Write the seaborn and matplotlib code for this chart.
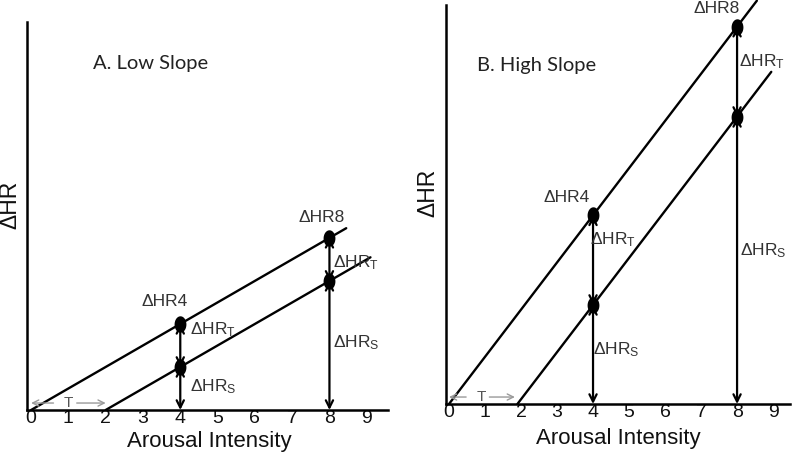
import numpy as np
import pandas as pd
import matplotlib
matplotlib.use("Agg")
import matplotlib.pyplot as plt
from matplotlib.path import Path
import seaborn as sns

# ---------------- data ----------------
tick_values = [0, 1, 2, 3, 4, 5, 6, 7, 8, 9]
tick_labels = ["0", "1", "2", "3", "4", "5", "6", "7", "8", "9"]
panel_titles = ["A. Low Slope", "B. High Slope"]
x_label = "Arousal Intensity"
y_label = "\u0394HR"

# Panel A (low slope)
a_upper_x = [0.0, 8.45]
a_upper_y = [0.0, 8.87]
a_lower_x = [2.0, 9.1]
a_lower_y = [0.0, 7.45]
a_dot_x = [4, 8, 4, 8]
a_dot_y = [4.2, 8.4, 2.1, 6.3]
a_threshold = [0.0, 2.0]

# Panel B (high slope)
b_upper_x = [0.0, 8.55]
b_upper_y = [0.0, 19.67]
b_lower_x = [1.9, 8.95]
b_lower_y = [0.0, 16.2]
b_dot_x = [4, 8, 4, 8]
b_dot_y = [9.2, 18.4, 4.83, 14.0]
b_threshold = [0.0, 1.83]

point_labels = ["\u0394HR4", "\u0394HR8"]
lab_T = "\u0394HR$_\\mathregular{T}$"
lab_S = "\u0394HR$_\\mathregular{S}$"

# ---------------- style ----------------
sns.set_style("white")
plt.rcParams["font.family"] = ["Liberation Sans", "DejaVu Sans"]
plt.rcParams["mathtext.default"] = "regular"
plt.rcParams["axes.unicode_minus"] = False

W, H = 796, 455
fig = plt.figure(figsize=(W / 100, H / 100), dpi=100)

def frac(px_left, px_top, px_right, px_bottom):
    return [px_left / W, 1 - px_bottom / H, (px_right - px_left) / W, (px_bottom - px_top) / H]

axA = fig.add_axes(frac(27, 22, 388, 410))
axB = fig.add_axes(frac(446, 5, 790, 404))

ellipse_t = np.linspace(0, 2 * np.pi, 40)
ellipse_marker = Path(np.column_stack([0.72 * np.cos(ellipse_t), np.sin(ellipse_t)]))

text_col = "#333333"
lab_fs = 12.5


def draw_panel(ax, xlim, ylim, up_x, up_y, lo_x, lo_y, dot_x, dot_y, thr,
               title, title_xy, lab_pos, t_y, t_x, xlab_xy, ylab_xy):
    sns.lineplot(x=up_x, y=up_y, ax=ax, color="black", lw=1.7, clip_on=False)
    sns.lineplot(x=lo_x, y=lo_y, ax=ax, color="black", lw=1.7, clip_on=False)
    sns.scatterplot(x=dot_x, y=dot_y, ax=ax, color="black", marker=ellipse_marker,
                    s=140, linewidth=0, zorder=5, clip_on=False)

    # double-headed arrows
    ap = dict(arrowstyle="<->", lw=1.6, color="black", mutation_scale=13,
              shrinkA=0, shrinkB=0)
    x4u, x8u, x4l, x8l = dot_x
    y4u, y8u, y4l, y8l = dot_y
    ax.annotate("", xy=(x4u, y4u), xytext=(x4l, y4l), arrowprops=ap, annotation_clip=False)
    ax.annotate("", xy=(x4l, y4l), xytext=(x4l, 0), arrowprops=ap, annotation_clip=False)
    ax.annotate("", xy=(x8u, y8u), xytext=(x8l, y8l), arrowprops=ap, annotation_clip=False)
    ax.annotate("", xy=(x8l, y8l), xytext=(x8l, 0), arrowprops=ap, annotation_clip=False)

    # labels
    (p4, p8, t4, s4, t8, s8) = lab_pos
    ax.text(*p4, point_labels[0], ha="center", va="center", fontsize=lab_fs, color=text_col)
    ax.text(*p8, point_labels[1], ha="center", va="center", fontsize=lab_fs, color=text_col)
    ax.text(*t4, lab_T, ha="left", va="center", fontsize=lab_fs, color=text_col)
    ax.text(*s4, lab_S, ha="left", va="center", fontsize=lab_fs, color=text_col)
    ax.text(*t8, lab_T, ha="left", va="center", fontsize=lab_fs, color=text_col)
    ax.text(*s8, lab_S, ha="left", va="center", fontsize=lab_fs, color=text_col)

    # threshold arrow T
    tp = dict(arrowstyle="->", lw=1.0, color="#9a9a9a", mutation_scale=11,
              shrinkA=5, shrinkB=0)
    ax.annotate("T", xy=(thr[0], t_y), xytext=(t_x, t_y), ha="center", va="center",
                fontsize=11, color="#555555", arrowprops=tp, annotation_clip=False)
    ax.annotate("", xy=(thr[1], t_y), xytext=(t_x, t_y),
                arrowprops=dict(tp, shrinkA=6), annotation_clip=False)

    ax.text(*title_xy, title, ha="center", va="center", fontsize=14.5,
            family=["Lato", "DejaVu Sans"], color="#222222")

    ax.set_xlim(*xlim)
    ax.set_ylim(*ylim)
    ax.set_xticks(tick_values)
    ax.set_xticklabels(tick_labels)
    ax.set_yticks([])
    ax.tick_params(axis="x", length=0, pad=0, labelsize=14, labelcolor="#111111")
    for sp in ["top", "right"]:
        ax.spines[sp].set_visible(False)
    for sp in ["left", "bottom"]:
        ax.spines[sp].set_linewidth(1.8)
        ax.spines[sp].set_color("black")
    ax.set_xlabel(x_label, fontsize=16, va="center", color="#111111")
    ax.xaxis.set_label_coords(*xlab_xy)
    ax.set_ylabel(y_label, fontsize=16.5, va="center", color="#111111")
    ax.yaxis.set_label_coords(*ylab_xy)
    ax.patch.set_alpha(0)


draw_panel(axA, (-0.11, 9.57), (0, 18.93),
           a_upper_x, a_upper_y, a_lower_x, a_lower_y, a_dot_x, a_dot_y, a_threshold,
           panel_titles[0], (3.19, 16.9),
           [(3.57, 5.27), (7.8, 9.4), (4.26, 3.9), (4.26, 1.12), (8.1, 7.2), (8.1, 3.27)],
           0.34, 1.0, (0.504, -0.080), (-0.047, 0.528))

draw_panel(axB, (-0.083, 9.47), (0, 19.46),
           b_upper_x, b_upper_y, b_lower_x, b_lower_y, b_dot_x, b_dot_y, b_threshold,
           panel_titles[1], (2.42, 16.5),
           [(3.28, 10.05), (7.42, 19.27), (3.92, 8.0), (4.0, 2.63), (8.06, 16.7), (8.08, 7.5)],
           0.34, 0.89, (0.5, -0.0877), (-0.052, 0.529))

fig.savefig("out.png", dpi=100, facecolor="white")
